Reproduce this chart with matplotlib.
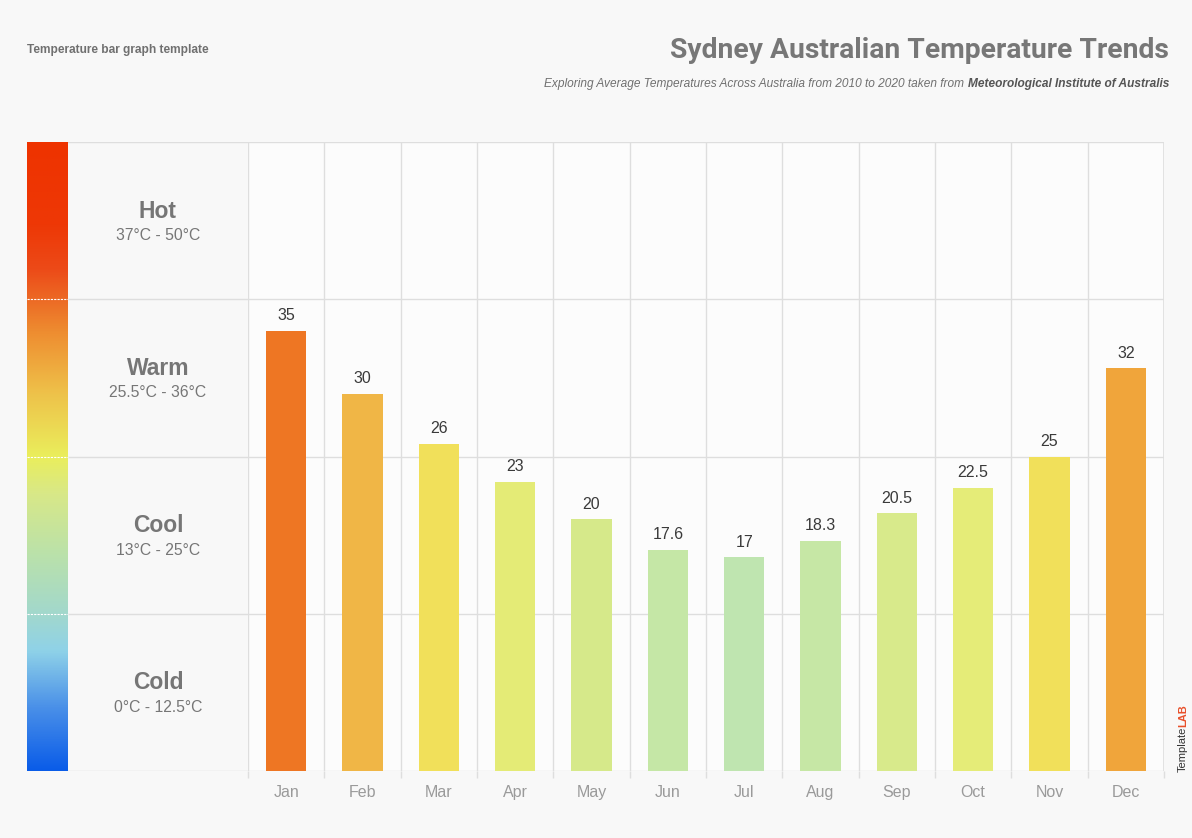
import numpy as np
import matplotlib
matplotlib.use("Agg")
from matplotlib import pyplot as plt
from matplotlib.colors import LinearSegmentedColormap

months = ["Jan", "Feb", "Mar", "Apr", "May", "Jun",
          "Jul", "Aug", "Sep", "Oct", "Nov", "Dec"]
temps = [35, 30, 26, 23, 20, 17.6, 17, 18.3, 20.5, 22.5, 25, 32]
bar_colors = ["#EE7623", "#F0B646", "#F1E05A", "#E4EB76", "#D6E98A", "#C5E7A6",
              "#BFE5B0", "#C6E7A5", "#D8EA8B", "#E5EC78", "#F1E05A", "#F0A53B"]

bands = ["Cold", "Cool", "Warm", "Hot"]
band_ranges = ["0°C - 12.5°C", "13°C - 25°C", "25.5°C - 36°C", "37°C - 50°C"]
band_edges = [0, 12.5, 25, 37.5, 50]

# colour stops of the thermometer strip, bottom -> top
grad_stops = [(0.0, "#0A5CE8"), (0.10, "#4A90E8"), (0.19, "#8FD2E8"),
              (0.25, "#A2D8CC"), (0.35, "#BCE2A8"), (0.44, "#D8E888"),
              (0.50, "#EAEE5C"), (0.60, "#EEC24A"), (0.70, "#EE8C30"),
              (0.75, "#EC6A25"), (0.80, "#EC4A18"), (0.87, "#EE3806"),
              (1.0, "#EE3300")]

W, H = 1192, 838
GRID = "#DEDEDE"
GRAY = "#767676"
plt.rcParams["font.family"] = ["Liberation Sans", "DejaVu Sans"]

fig = plt.figure(figsize=(W / 100, H / 100), dpi=100, facecolor="#F8F8F8")


def px_rect(x0, y0, x1, y1):
    return [x0 / W, 1 - y1 / H, (x1 - x0) / W, (y1 - y0) / H]


# ---- bar chart area ----
ax = fig.add_axes(px_rect(248, 142, 1164, 771))
ax.set_facecolor("#FCFCFC")
x = np.arange(len(months))
ax.bar(x, temps, width=0.525, color=bar_colors, zorder=3)
for xi, v in zip(x, temps):
    ax.text(xi, v + 0.6, f"{v:g}", ha="center", va="bottom",
            fontsize=11.5, color="#3A3A3A", zorder=4)

ax.set_xlim(-0.5, len(months) - 0.5)
ax.set_ylim(0, 50)
ax.set_xticks(x)
ax.set_xticklabels(months, fontsize=11.5, color="#9A9A9A")
ax.set_xticks(np.arange(-0.5, len(months)), minor=True)
ax.tick_params(axis="x", which="major", length=0, pad=10)
ax.tick_params(axis="x", which="minor", length=5, color=GRID, width=1)
ax.set_yticks(band_edges)
ax.set_yticklabels([])
ax.tick_params(axis="y", length=0)
ax.grid(axis="x", which="minor", color=GRID, linewidth=1, zorder=0)
ax.grid(axis="y", color=GRID, linewidth=1, zorder=0)
for s in ax.spines.values():
    s.set_visible(False)
ax.axvline(len(months) - 0.5, color=GRID, linewidth=1.2, zorder=1)

# ---- label / gradient area ----
lab = fig.add_axes(px_rect(27, 142, 248, 771))
lab.set_facecolor("#FCFCFC")
lab.set_xlim(0, 1)
lab.set_ylim(0, 50)
lab.axis("off")
strip_w = 41 / 221
cmap = LinearSegmentedColormap.from_list("therm", grad_stops)
grad = np.linspace(0, 1, 256).reshape(-1, 1)
lab.imshow(grad, cmap=cmap, origin="lower", aspect="auto",
           extent=[0, strip_w, 0, 50], zorder=2)
for e in band_edges:
    lab.axhline(e, color=GRID, linewidth=1, zorder=1)
for e in band_edges[1:-1]:
    lab.plot([0, strip_w], [e, e], color="white", linewidth=0.8,
             linestyle=(0, (2, 1)), zorder=3)
tx = (strip_w + 1) / 2
for name, rng, lo, hi in zip(bands, band_ranges, band_edges[:-1], band_edges[1:]):
    mid = (lo + hi) / 2
    lab.text(tx, mid + 0.75, name, ha="center", va="center",
             fontsize=16.5, fontweight="bold", color=GRAY)
    lab.text(tx, mid - 1.2, rng, ha="center", va="center",
             fontsize=11.3, color=GRAY)

# ---- titles ----
fig.text(27 / W, 1 - 50 / H, "Temperature bar graph template", ha="left",
         va="center", fontsize=8.6, fontweight="bold", color="#707070")
fig.text(1169 / W, 1 - 50 / H, "Sydney Australian Temperature Trends",
         ha="right", va="center", fontsize=20.3, fontweight="bold",
         color="#777777", family=["Roboto", "DejaVu Sans"])

renderer = fig.canvas.get_renderer()
sub_bold = fig.text(1169 / W, 1 - 84 / H, "Meteorological Institute of Australis",
                    ha="right", va="center", fontsize=8.6, fontweight="bold",
                    style="italic", color="#555555")
bb = sub_bold.get_window_extent(renderer)
fig.text((bb.x0 - 4) / W, 1 - 84 / H,
         "Exploring Average Temperatures Across Australia from 2010 to 2020 taken from",
         ha="right", va="center", fontsize=8.6, style="italic", color="#707070")

# ---- logo ----
t1 = fig.text(1183 / W, 1 - 772 / H, "Template", rotation=90, ha="center",
              va="bottom", fontsize=8, color="#333333")
bb1 = t1.get_window_extent(renderer)
fig.text(1183 / W, bb1.y1 / H, "LAB", rotation=90, ha="center", va="bottom",
         fontsize=8, fontweight="bold", color="#E8502A")

fig.savefig("out.png", dpi=100, facecolor=fig.get_facecolor())
